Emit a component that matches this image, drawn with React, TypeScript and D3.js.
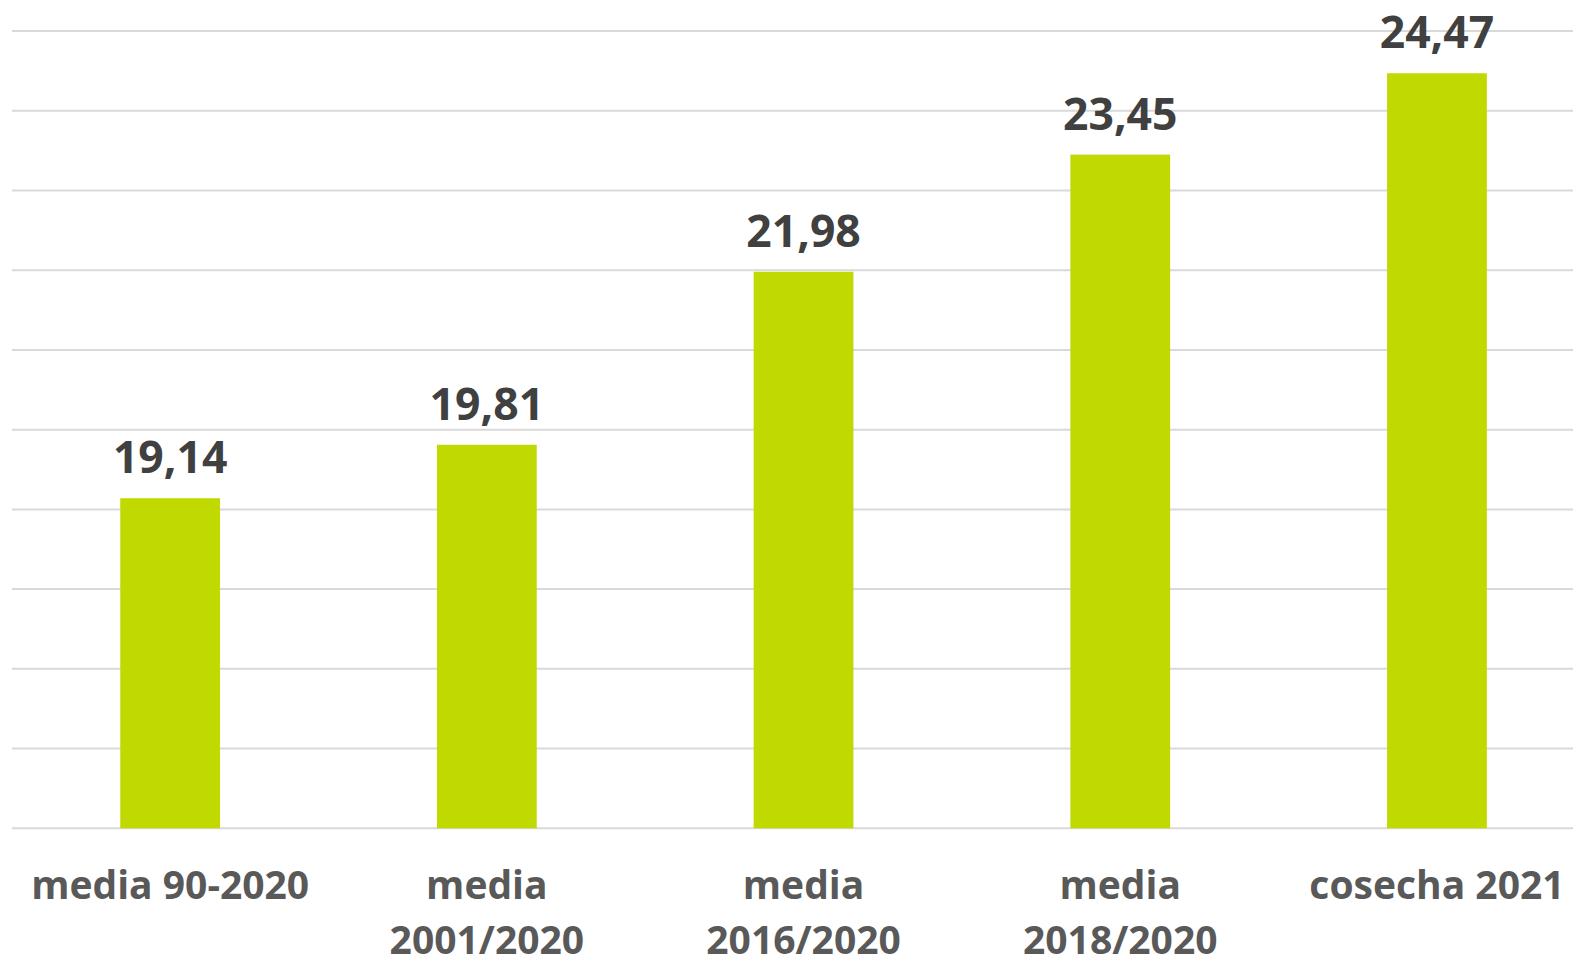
import React, { useEffect } from "react";
import * as d3 from "d3";

const categories: string[] = [
  "media 90-2020",
  "media\n2001/2020",
  "media\n2016/2020",
  "media\n2018/2020",
  "cosecha 2021",
];
const values: number[] = [19.14, 19.81, 21.98, 23.45, 24.47];
const yTicks: number[] = [15, 16, 17, 18, 19, 20, 21, 22, 23, 24, 25];

const W = 1573;
const H = 961;
const FONT = "'Open Sans', 'Noto Sans', sans-serif";

export default function App() {
  useEffect(() => {
    document.body.style.margin = "0";
    document.body.style.overflow = "hidden";
    document.documentElement.style.overflow = "hidden";
  }, []);

  const x = d3
    .scaleBand<string>()
    .domain(categories)
    .range([11.8, 1595.3])
    .paddingInner(0.685)
    .paddingOuter(0.3425);
  const y = d3.scaleLinear().domain([15, 25]).range([828.3, 31]);
  const fmt = (v: number) => v.toFixed(2).replace(".", ",");

  return (
    <svg
      width={W}
      height={H}
      style={{ display: "block", background: "#fff", position: "fixed", left: 0, top: 0 }}
    >
      <g>
        {yTicks.map((t) => (
          <line
            key={t}
            x1={12}
            x2={W}
            y1={y(t)}
            y2={y(t)}
            stroke="#d9d9d9"
            strokeWidth={2}
          />
        ))}
      </g>
      <g>
        {categories.map((c, i) => (
          <rect
            key={c}
            x={x(c)}
            y={y(values[i])}
            width={x.bandwidth()}
            height={y(15) - y(values[i])}
            fill="#c0d900"
          />
        ))}
      </g>
      <g fontFamily={FONT} fontWeight="bold">
        {categories.map((c, i) => (
          <text
            key={c}
            x={(x(c) as number) + x.bandwidth() / 2}
            y={y(values[i]) - 25}
            textAnchor="middle"
            fontSize={44.5}
            fill="#404040"
          >
            {fmt(values[i])}
          </text>
        ))}
      </g>
      <g fontFamily={FONT} fontWeight="bold">
        {categories.map((c) => (
          <text
            key={c}
            x={(x(c) as number) + x.bandwidth() / 2}
            y={898.5}
            textAnchor="middle"
            fontSize={39}
            fill="#595959"
          >
            {c.split("\n").map((line, j) => (
              <tspan
                key={j}
                x={(x(c) as number) + x.bandwidth() / 2}
                dy={j === 0 ? 0 : 55}
              >
                {line}
              </tspan>
            ))}
          </text>
        ))}
      </g>
    </svg>
  );
}
